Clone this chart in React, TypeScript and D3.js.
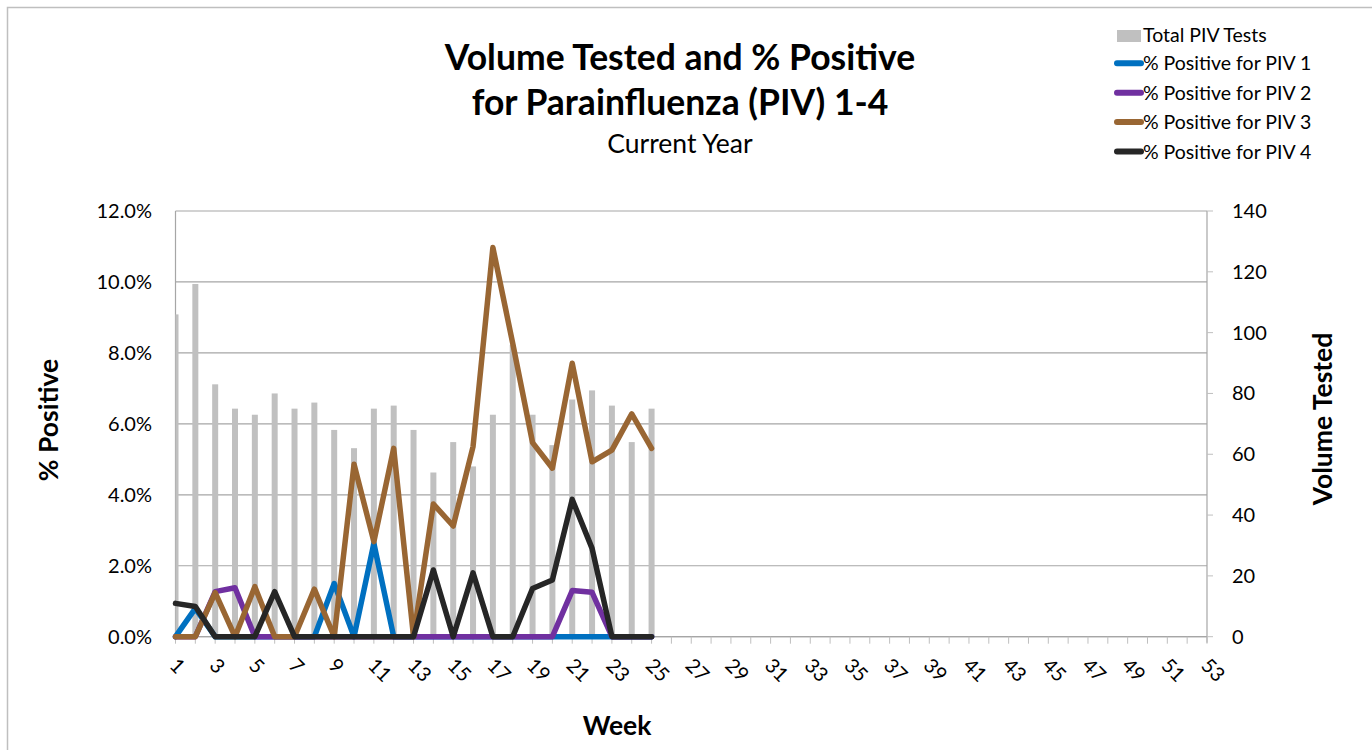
import React from "react";
import * as d3 from "d3";

const weeks: number[] = d3.range(1, 54);
const weekTickLabels: number[] = weeks.filter((w) => w % 2 === 1);

const totalTests: number[] = [106, 116, 83, 75, 73, 80, 75, 77, 68, 62, 75, 76, 68, 54, 64, 56, 73, 96, 73, 63, 78, 81, 76, 64, 75];
const piv1: number[] = [0, 0.8, 0, 0, 0, 0, 0, 0, 1.5, 0, 2.63, 0, 0, 0, 0, 0, 0, 0, 0, 0, 0, 0, 0, 0, 0];
const piv2: number[] = [0, 0, 1.27, 1.38, 0, 0, 0, 0, 0, 0, 0, 0, 0, 0, 0, 0, 0, 0, 0, 0, 1.3, 1.25, 0, 0, 0];
const piv3: number[] = [0, 0, 1.24, 0, 1.41, 0, 0, 1.34, 0, 4.86, 2.68, 5.31, 0, 3.74, 3.12, 5.36, 10.97, 8.27, 5.47, 4.75, 7.71, 4.93, 5.26, 6.28, 5.31];
const piv4: number[] = [0.94, 0.85, 0, 0, 0, 1.27, 0, 0, 0, 0, 0, 0, 0, 1.88, 0, 1.8, 0, 0, 1.36, 1.6, 3.87, 2.49, 0, 0, 0];

const pctTicks: number[] = [0, 2, 4, 6, 8, 10, 12];
const volTicks: number[] = [0, 20, 40, 60, 80, 100, 120, 140];

const seriesNames: string[] = ["% Positive for PIV 1", "% Positive for PIV 2", "% Positive for PIV 3", "% Positive for PIV 4"];
const seriesColors: string[] = ["#0070C0", "#7030A0", "#996633", "#262626"];
const seriesData: number[][] = [piv1, piv2, piv3, piv4];

const FONT = "Lato, 'Open Sans', sans-serif";

export default function App() {
  const left = 175.5, right = 1207, top = 211, bottom = 636.7;
  const x = d3.scaleLinear().domain([1, 53]).range([left, right]);
  const yPct = d3.scaleLinear().domain([0, 12]).range([bottom, top]);
  const yVol = d3.scaleLinear().domain([0, 140]).range([bottom, top]);
  const barW = 6;
  const line = d3
    .line<number>()
    .x((_, i) => x(i + 1))
    .y((d) => yPct(d));

  return (
    <svg
      width={1372}
      height={750}
      style={{ position: "absolute", left: 0, top: 0, background: "#fff" }}
      fontFamily={FONT}
    >
      <rect x={7.5} y={7.5} width={1400} height={800} fill="#fff" stroke="#BFBFBF" strokeWidth={1.5} />

      {/* title */}
      <text x={680} y={70} textAnchor="middle" fontSize={35.5} fontWeight="bold" fill="#000">
        Volume Tested and % Positive
      </text>
      <text x={680} y={115} textAnchor="middle" fontSize={35.5} fontWeight="bold" fill="#000">
        for Parainfluenza (PIV) 1-4
      </text>
      <text x={680} y={153} textAnchor="middle" fontSize={26.5} fill="#000">
        Current Year
      </text>

      {/* gridlines */}
      {pctTicks.map((t) => (
        <line key={"g" + t} x1={left} x2={right} y1={yPct(t)} y2={yPct(t)} stroke="#A6A6A6" strokeWidth={1.2} />
      ))}
      <line x1={left} x2={left} y1={top} y2={bottom} stroke="#A6A6A6" strokeWidth={1.2} />
      <line x1={right} x2={right} y1={top} y2={bottom + 6} stroke="#A6A6A6" strokeWidth={1.2} />

      {/* bars */}
      <defs>
        <clipPath id="plotclip">
          <rect x={left} y={top - 10} width={right - left} height={bottom - top + 10} />
        </clipPath>
      </defs>
      <g clipPath="url(#plotclip)">
        {totalTests.map((v, i) => (
          <rect
            key={"b" + i}
            x={x(i + 1) - barW / 2}
            y={yVol(v)}
            width={barW}
            height={bottom - yVol(v)}
            fill="#C0C0C0"
          />
        ))}
      </g>

      {/* x axis */}
      <line x1={left} x2={right} y1={bottom} y2={bottom} stroke="#A6A6A6" strokeWidth={1.2} />
      {weeks.map((w) => (
        <line key={"xt" + w} x1={x(w)} x2={x(w)} y1={bottom} y2={bottom + 7} stroke="#BFBFBF" strokeWidth={1} />
      ))}
      {weekTickLabels.map((w) => (
        <text
          key={"xl" + w}
          transform={`translate(${x(w) - 7},${bottom + 30}) rotate(45)`}
          fontSize={20}
          fill="#000"
        >
          {w}
        </text>
      ))}

      {/* lines */}
      {seriesData.map((s, k) => (
        <path
          key={"l" + k}
          d={line(s) || ""}
          fill="none"
          stroke={seriesColors[k]}
          strokeWidth={5.5}
          strokeLinejoin="round"
          strokeLinecap="round"
        />
      ))}

      {/* left axis labels */}
      {pctTicks.map((t) => (
        <text key={"yl" + t} x={152} y={yPct(t)} dy="0.35em" textAnchor="end" fontSize={20} fill="#000">
          {t.toFixed(1) + "%"}
        </text>
      ))}
      {/* right axis */}
      {volTicks.map((t) => (
        <g key={"yr" + t}>
          <line x1={right} x2={right + 6} y1={yVol(t)} y2={yVol(t)} stroke="#BFBFBF" strokeWidth={1} />
          <text x={1232} y={yVol(t)} dy="0.35em" fontSize={20} fill="#000">
            {t}
          </text>
        </g>
      ))}

      {/* axis titles */}
      <text transform="translate(58,420) rotate(-90)" textAnchor="middle" fontSize={26.5} fontWeight="bold" fill="#000">
        % Positive
      </text>
      <text transform="translate(1332,419) rotate(-90)" textAnchor="middle" fontSize={26.5} fontWeight="bold" fill="#000">
        Volume Tested
      </text>
      <text x={617} y={735} textAnchor="middle" fontSize={26.5} fontWeight="bold" fill="#000">
        Week
      </text>

      {/* legend */}
      <g>
        <rect x={1117} y={30} width={24} height={12} fill="#C0C0C0" />
        <text x={1143} y={42} fontSize={19.5} fill="#000">
          Total PIV Tests
        </text>
        {seriesNames.map((n, k) => {
          const ly = 63.3 + k * 29.4;
          return (
            <g key={"lg" + k}>
              <line x1={1117} x2={1141} y1={ly} y2={ly} stroke={seriesColors[k]} strokeWidth={6} strokeLinecap="round" />
              <text x={1143} y={ly + 7} fontSize={19.5} fill="#000">
                {n}
              </text>
            </g>
          );
        })}
      </g>
    </svg>
  );
}
